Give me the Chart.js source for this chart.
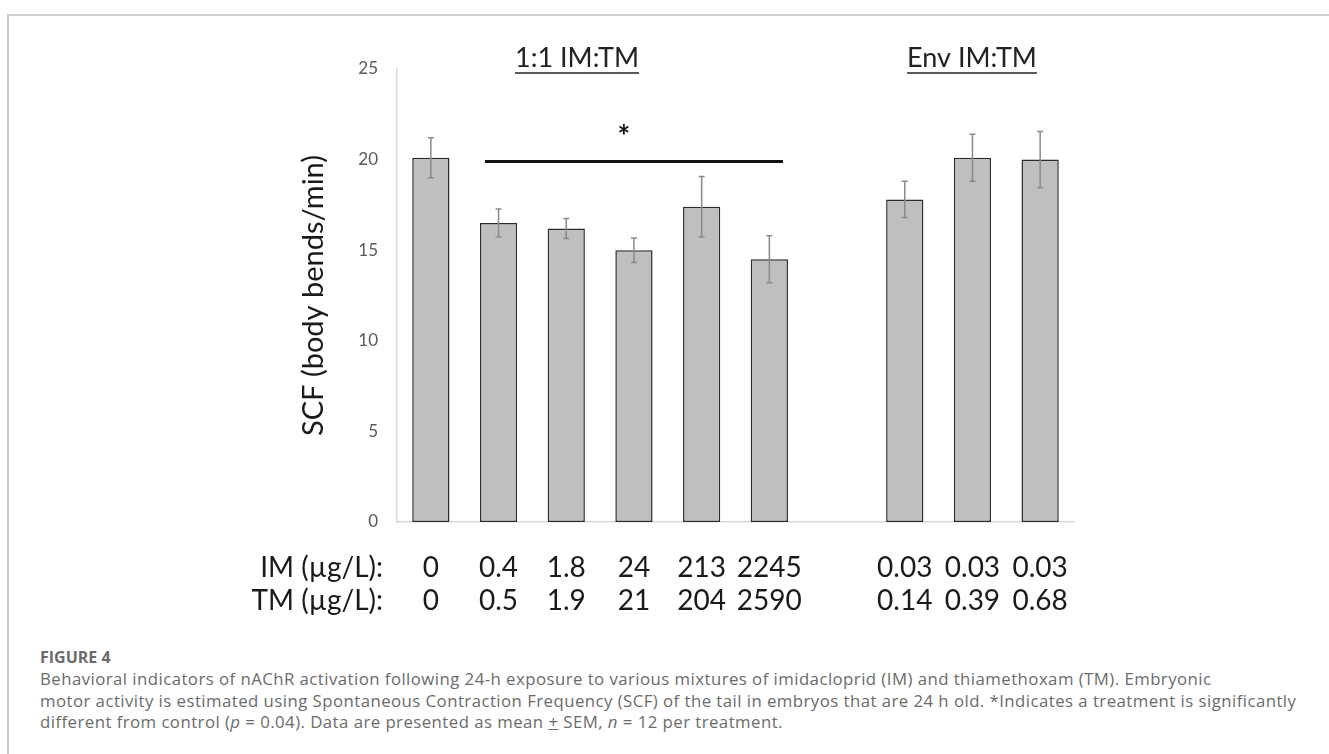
<!DOCTYPE html>
<html>
<head>
<meta charset="utf-8">
<script src="https://cdn.jsdelivr.net/npm/chart.js@4.4.0/dist/chart.umd.min.js"></script>
<style>
  html, body { margin: 0; padding: 0; background: #fff; }
  body { width: 1329px; height: 754px; position: relative; overflow: hidden; }
  #frame { position: absolute; left: 7px; top: 14px; width: 1340px; height: 760px;
           border-top: 2px solid #d0d0d0; border-left: 2px solid #c8c8c8; }
  #myChart { position: absolute; left: 0; top: 0; }
  .cap { position: absolute; left: 40px; font-family: "Open Sans", sans-serif; color: #6b6b6b; white-space: nowrap; }
  #figno { top: 646px; font-size: 16px; font-weight: bold; }
  #captext { top: 668px; font-size: 16.8px; letter-spacing: 0.45px; line-height: 21.5px; }
</style>
</head>
<body>
<div id="frame"></div>
<canvas id="myChart" width="1329" height="630"></canvas>
<div class="cap" id="figno">FIGURE 4</div>
<div class="cap" id="captext">Behavioral indicators of nAChR activation following 24-h exposure to various mixtures of imidacloprid (IM) and thiamethoxam (TM). Embryonic<br>motor activity is estimated using Spontaneous Contraction Frequency (SCF) of the tail in embryos that are 24 h old. *Indicates a treatment is significantly<br>different from control (<i>p</i> = 0.04). Data are presented as mean <u>+</u> SEM, <i>n</i> = 12 per treatment.</div>
<script>
  // concentrations under each bar (empty slot separates the two groups)
  const imLabels = ['0', '0.4', '1.8', '24', '213', '2245', '', '0.03', '0.03', '0.03'];
  const tmLabels = ['0', '0.5', '1.9', '21', '204', '2590', '', '0.14', '0.39', '0.68'];
  const scfMean = [20.1, 16.5, 16.2, 15.0, 17.4, 14.5, null, 17.8, 20.1, 20.0];
  const scfSem = [1.1, 0.77, 0.55, 0.68, 1.67, 1.3, null, 1.0, 1.3, 1.55];
  const groupTitles = ['1:1 IM:TM', 'Env IM:TM'];
  const rowNames = ['IM (\u00b5g/L):', 'TM (\u00b5g/L):'];
  const sigFrom = 1, sigTo = 5, sigLevel = 19.9;
  const yMax = 25, yStep = 5;

  const chartFont = 'Lato';

  const extras = {
    id: 'extras',
    afterDatasetsDraw(chart) {
      const c = chart.ctx;
      const y = chart.scales.y;
      const bars = chart.getDatasetMeta(0).data;

      // error bars
      c.save();
      c.strokeStyle = '#8a8a8a';
      c.lineWidth = 1.5;
      scfMean.forEach((m, i) => {
        if (m == null) return;
        const x = bars[i].x;
        const top = y.getPixelForValue(m + scfSem[i]);
        const bot = y.getPixelForValue(m - scfSem[i]);
        c.beginPath();
        c.moveTo(x, top); c.lineTo(x, bot);
        c.moveTo(x - 3, top); c.lineTo(x + 3, top);
        c.moveTo(x - 3, bot); c.lineTo(x + 3, bot);
        c.stroke();
      });
      c.restore();

      // significance bar
      const x1 = bars[sigFrom].x - bars[sigFrom].width / 2 + 5;
      const x2 = bars[sigTo].x + bars[sigTo].width / 2 - 5;
      const ys = y.getPixelForValue(sigLevel);
      c.save();
      c.strokeStyle = '#111';
      c.lineWidth = 3;
      c.beginPath(); c.moveTo(x1, ys); c.lineTo(x2, ys); c.stroke();
      c.fillStyle = '#111';
      c.font = 'bold 30px ' + chartFont;
      c.textAlign = 'center';
      c.textBaseline = 'middle';
      c.fillText('*', (x1 + x2) / 2 - 10, ys - 24);
      c.restore();

      // group titles, underlined
      c.save();
      c.font = '27px ' + chartFont;
      c.fillStyle = '#222';
      c.strokeStyle = '#222';
      c.lineWidth = 1.5;
      c.textAlign = 'center';
      c.textBaseline = 'middle';
      [[577, 58], [972, 58]].forEach((p, k) => {
        c.fillText(groupTitles[k], p[0], p[1]);
        const w = c.measureText(groupTitles[k]).width;
        c.beginPath();
        c.moveTo(p[0] - w / 2, p[1] + 15);
        c.lineTo(p[0] + w / 2, p[1] + 15);
        c.stroke();
      });
      c.restore();

      // row names for the concentration labels
      c.save();
      c.font = '28px ' + chartFont;
      c.fillStyle = '#1a1a1a';
      c.textAlign = 'right';
      c.textBaseline = 'middle';
      c.fillText(rowNames[0], 383, 568);
      c.fillText(rowNames[1], 383, 601);
      c.restore();
    }
  };

  const ctx = document.getElementById('myChart').getContext('2d');

  new Chart(ctx, {
    type: 'bar',
    data: {
      labels: imLabels.map((v, i) => [v, tmLabels[i]]),
      datasets: [{
        label: 'SCF',
        data: scfMean,
        backgroundColor: '#bfbfbf',
        borderColor: '#2b2b2b',
        borderWidth: 1.5,
        borderSkipped: false,
        barPercentage: 0.55,
        categoryPercentage: 1
      }]
    },
    options: {
      responsive: false,
      devicePixelRatio: 1,
      animation: false,
      layout: { padding: { left: 290, right: 255, top: 69, bottom: 0 } },
      plugins: {
        legend: { display: false },
        tooltip: { enabled: false }
      },
      scales: {
        x: {
          grid: { display: false, drawTicks: false },
          border: { color: '#d9d9d9', width: 1.5 },
          ticks: {
            autoSkip: false,
            maxRotation: 0,
            padding: 29,
            color: '#1a1a1a',
            font: { family: chartFont, size: 28, lineHeight: 1.18 }
          },
          afterFit(scale) { scale.height = 630 - 522; }
        },
        y: {
          min: 0,
          max: yMax,
          grid: { display: false, drawTicks: false },
          border: { color: '#d9d9d9', width: 1.5 },
          ticks: {
            stepSize: yStep,
            padding: 19,
            color: '#595959',
            font: { family: chartFont, size: 17 }
          },
          title: {
            display: true,
            text: 'SCF (body bends/min)',
            color: '#1a1a1a',
            padding: { top: 6, bottom: 0 },
            font: { family: chartFont, size: 29 }
          },
          afterFit(scale) { scale.width = 397 - 290; }
        }
      }
    },
    plugins: [extras]
  });
</script>
</body>
</html>
